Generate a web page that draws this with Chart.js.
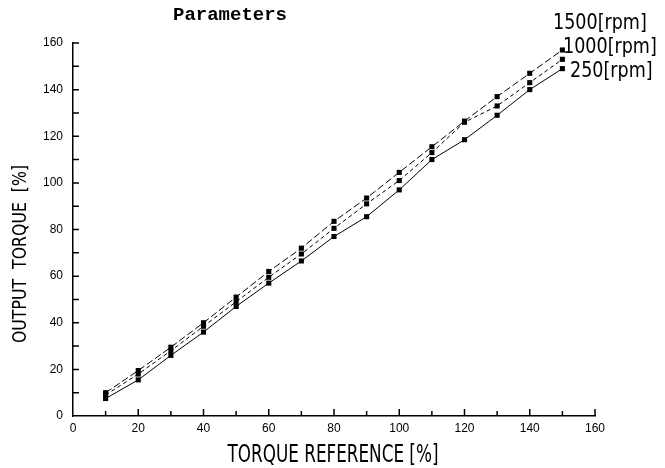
<!DOCTYPE html>
<html>
<head>
<meta charset="utf-8">
<script src="https://cdn.jsdelivr.net/npm/chart.js@4/dist/chart.umd.min.js"></script>
<style>
  html, body { margin: 0; padding: 0; background: #fff; }
  #wrap { width: 665px; height: 468px; }
</style>
</head>
<body>
<div id="wrap"><canvas id="chartTorque"></canvas></div>
<script>
// torque reference [%] on x, output torque [%] on y
const torqueRef = [10, 20, 30, 40, 50, 60, 70, 80, 90, 100, 110, 120, 130, 140, 150];
const out1500 = [10, 19.5, 29.5, 40, 51, 62, 72, 83.5, 93.5, 104.5, 115.5, 126.5, 137, 147, 157];
const out1000 = [9, 18, 28, 38.5, 49, 59.5, 69.5, 80.5, 91, 101, 113, 126, 133, 143, 153];
const out250 = [7.5, 15.5, 26, 36, 47, 57, 66.5, 77, 85.5, 97, 110, 118.5, 129, 140, 149];
const seriesNames = ["1500[rpm]", "1000[rpm]", "250[rpm]"];
const yTickLabels = [0, 20, 40, 60, 80, 100, 120, 140, 160];
const xTickLabels = [0, 20, 40, 60, 80, 100, 120, 140, 160];

const canvas = document.getElementById("chartTorque");

function toPoints(values) {
    return torqueRef.map((x, i) => ({ x: x, y: values[i] }));
}

function makeDataset(label, values, dash) {
    return {
        label: label,
        data: toPoints(values),
        borderColor: "#000",
        backgroundColor: "#000",
        borderWidth: 1,
        borderDash: dash,
        pointStyle: "rect",
        pointRadius: 3.6,
        pointBorderWidth: 0,
        tension: 0
    };
}

// draws text stretched a bit, the scanned lettering is tall and narrow
function tallText(ctx, text, x, y, size, stretch, angle) {
    ctx.save();
    ctx.translate(x, y);
    if (angle) ctx.rotate(angle);
    ctx.scale(1, stretch);
    ctx.font = size + "px 'DejaVu Sans Condensed', 'Liberation Sans Narrow', sans-serif";
    ctx.fillText(text, 0, 0);
    ctx.restore();
}

// small tick marks drawn inside the plot, plus the free text
const annotations = {
    id: "annotations",
    afterDraw(chart) {
        const ctx = chart.ctx;
        const xs = chart.scales.x;
        const ys = chart.scales.y;
        ctx.save();
        ctx.strokeStyle = "#000";
        ctx.lineWidth = 1.5;
        ctx.beginPath();
        for (let v = 10; v <= 160; v += 10) {
            let py = ys.getPixelForValue(v);
            ctx.moveTo(ys.right, py);
            ctx.lineTo(ys.right + 6, py);
            let px = xs.getPixelForValue(v);
            ctx.moveTo(px, xs.top);
            ctx.lineTo(px, xs.top - (v % 20 == 0 ? 7 : 5));
        }
        ctx.stroke();

        ctx.fillStyle = "#000";
        // title
        ctx.font = "bold 19px 'Liberation Mono', monospace";
        ctx.textAlign = "left";
        ctx.textBaseline = "middle";
        ctx.fillText("Parameters", 173, 15);

        // series labels at the line ends
        const labelPos = [[553, 24], [563, 48], [570, 72]];
        seriesNames.forEach((name, i) => {
            tallText(ctx, name, labelPos[i][0], labelPos[i][1], 19.5, 1.08, 0);
        });

        // axis titles
        ctx.textAlign = "center";
        tallText(ctx, "TORQUE REFERENCE [%]", 333, 456, 18.7, 1.3, 0);
        tallText(ctx, "OUTPUT  TORQUE  [%]", 21, 254, 17.5, 1.15, -Math.PI / 2);
        ctx.restore();
    }
};

new Chart(canvas, {
    type: "line",
    data: {
        datasets: [
            makeDataset(seriesNames[0], out1500, [7, 3]),
            makeDataset(seriesNames[1], out1000, [4, 3]),
            makeDataset(seriesNames[2], out250, [])
        ]
    },
    options: {
        responsive: true,
        maintainAspectRatio: false,
        animation: false,
        layout: { padding: { left: 0, right: 70, top: 43, bottom: 0 } },
        plugins: {
            legend: { display: false },
            tooltip: { enabled: false }
        },
        scales: {
            x: {
                type: "linear",
                min: 0,
                max: 160,
                afterFit: (scale) => { scale.height = 52; },
                afterBuildTicks: (scale) => { scale.ticks = xTickLabels.map(v => ({ value: v })); },
                grid: { display: true, drawOnChartArea: false, drawTicks: false },
                border: { display: true, color: "#000", width: 1.5 },
                ticks: {
                    color: "#000",
                    padding: 5,
                    maxRotation: 0,
                    font: { family: "'Liberation Sans', sans-serif", size: 12 }
                }
            },
            y: {
                type: "linear",
                min: 0,
                max: 160,
                afterFit: (scale) => { scale.width = 73; },
                afterBuildTicks: (scale) => { scale.ticks = yTickLabels.map(v => ({ value: v })); },
                grid: { display: true, drawOnChartArea: false, drawTicks: false },
                border: { display: true, color: "#000", width: 1.5 },
                ticks: {
                    color: "#000",
                    padding: 10,
                    font: { family: "'Liberation Sans', sans-serif", size: 12 }
                }
            }
        }
    },
    plugins: [annotations]
});
</script>
</body>
</html>
